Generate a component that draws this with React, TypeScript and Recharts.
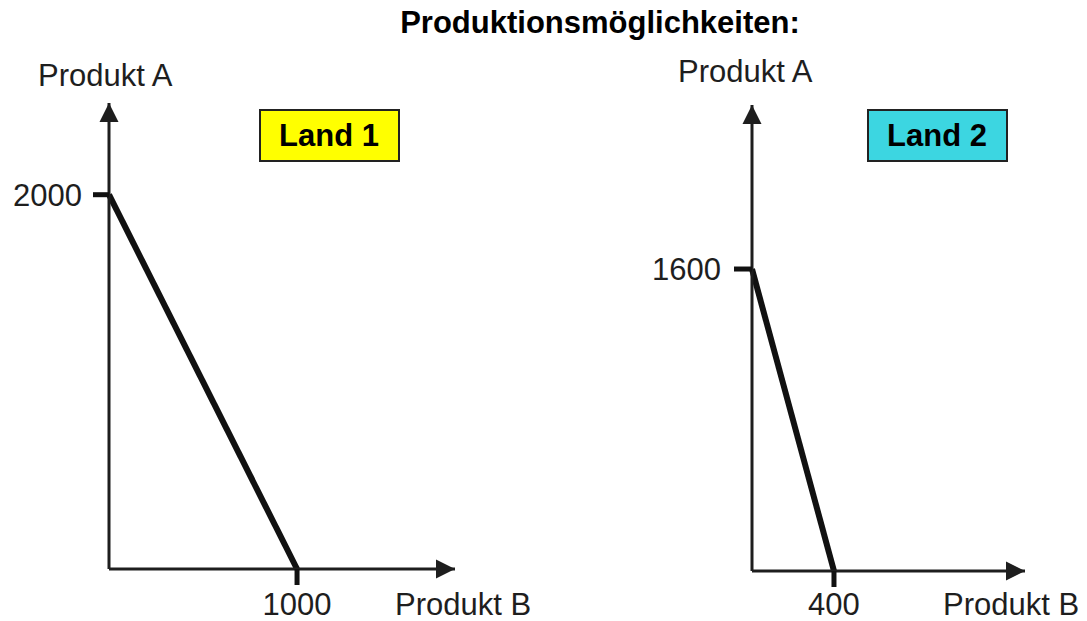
import React from "react";
import { LineChart, Line, XAxis, YAxis, ReferenceDot } from "recharts";

// Produktionsmöglichkeiten (Produkt B auf x, Produkt A auf y)
const land1B = [0, 1000];
const land1A = [2000, 0];
const land2B = [0, 400];
const land2A = [1600, 0];

const land1XTicks = [1000];
const land1YTicks = [2000];
const land2XTicks = [400];
const land2YTicks = [1600];

const land1Domain = { x: 1840, y: 2490 };
const land2Domain = { x: 1332, y: 2469 };

const countries = ["Land 1", "Land 2"];
const axisTitleX = "Produkt B";
const axisTitleY = "Produkt A";
const title = "Produktionsmöglichkeiten:";

const FONT = "'Liberation Sans', Arial, sans-serif";
const INK = "#1e1e1e";

const toRows = (bs: number[], as: number[]) => bs.map((b, i) => ({ b, a: as[i] }));

const upArrow = (props: any) => {
  const { cx, cy } = props;
  return <polygon points={`${cx},${cy} ${cx - 9.5},${cy + 19} ${cx + 9.5},${cy + 19}`} fill={INK} />;
};

const rightArrow = (props: any) => {
  const { cx, cy } = props;
  return <polygon points={`${cx},${cy} ${cx - 19},${cy - 9.5} ${cx - 19},${cy + 9.5}`} fill={INK} />;
};

interface PanelProps {
  bs: number[];
  as: number[];
  xTicks: number[];
  yTicks: number[];
  domain: { x: number; y: number };
  width: number;
  axisWidth: number;
  margin: { top: number; right: number; bottom: number; left: number };
  yTickSize: number;
  yTickMargin: number;
  xTickMargin: number;
}

function Panel(p: PanelProps) {
  const tickStyle = { fontSize: 31, fill: INK, fontFamily: FONT };
  return (
    <LineChart width={p.width} height={621} data={toRows(p.bs, p.as)} margin={p.margin}>
      <XAxis
        dataKey="b"
        type="number"
        domain={[0, p.domain.x]}
        ticks={p.xTicks}
        height={40}
        tick={tickStyle}
        tickSize={16}
        tickMargin={p.xTickMargin}
        axisLine={{ stroke: INK, strokeWidth: 3 }}
        tickLine={{ stroke: "#111", strokeWidth: 5 }}
      />
      <YAxis
        type="number"
        domain={[0, p.domain.y]}
        ticks={p.yTicks}
        width={p.axisWidth}
        tick={tickStyle}
        tickSize={p.yTickSize}
        tickMargin={p.yTickMargin}
        axisLine={{ stroke: INK, strokeWidth: 3 }}
        tickLine={{ stroke: "#111", strokeWidth: 5 }}
      />
      <ReferenceDot x={0} y={p.domain.y} r={0} shape={upArrow} ifOverflow="visible" />
      <ReferenceDot x={p.domain.x} y={0} r={0} shape={rightArrow} ifOverflow="visible" />
      <Line
        dataKey="a"
        type="linear"
        stroke="#111"
        strokeWidth={6}
        dot={false}
        activeDot={false}
        isAnimationActive={false}
      />
    </LineChart>
  );
}

export default function App() {
  return (
    <div style={{ position: "relative", width: 1087, height: 621, background: "#fff", fontFamily: FONT }}>
      <style>{"body{margin:0;background:#fff}"}</style>
      <div style={{ position: "absolute", left: 0, top: 0 }}>
        <Panel
          bs={land1B}
          as={land1A}
          xTicks={land1XTicks}
          yTicks={land1YTicks}
          domain={land1Domain}
          width={540}
          axisWidth={109}
          margin={{ top: 103, right: 85, bottom: 12, left: 0 }}
          yTickSize={16}
          yTickMargin={11}
          xTickMargin={8}
        />
      </div>
      <div style={{ position: "absolute", left: 560, top: 0 }}>
        <Panel
          bs={land2B}
          as={land2A}
          xTicks={land2XTicks}
          yTicks={land2YTicks}
          domain={land2Domain}
          width={527}
          axisWidth={192}
          margin={{ top: 105, right: 62, bottom: 10, left: 0 }}
          yTickSize={18}
          yTickMargin={13}
          xTickMargin={6}
        />
      </div>
      <svg
        width={1087}
        height={621}
        style={{ position: "absolute", left: 0, top: 0, pointerEvents: "none" }}
        fontFamily={FONT}
      >
        <text x={600} y={33} textAnchor="middle" fontSize={31} fontWeight="bold" fill="#000">
          {title}
        </text>
        <text x={38} y={86} fontSize={31} fill={INK}>{axisTitleY}</text>
        <text x={395} y={615} fontSize={31} fill={INK}>{axisTitleX}</text>
        <text x={678} y={82} fontSize={31} fill={INK}>{axisTitleY}</text>
        <text x={943} y={615} fontSize={31} fill={INK}>{axisTitleX}</text>

        <rect x={260} y={110} width={139} height={51} fill="#ffff00" stroke="#222" strokeWidth={2} />
        <text x={329} y={146} textAnchor="middle" fontSize={31} fontWeight="bold" fill="#000">
          {countries[0]}
        </text>
        <rect x={868} y={110} width={139} height={51} fill="#3cd6e1" stroke="#222" strokeWidth={2} />
        <text x={937} y={146} textAnchor="middle" fontSize={31} fontWeight="bold" fill="#000">
          {countries[1]}
        </text>
      </svg>
    </div>
  );
}
